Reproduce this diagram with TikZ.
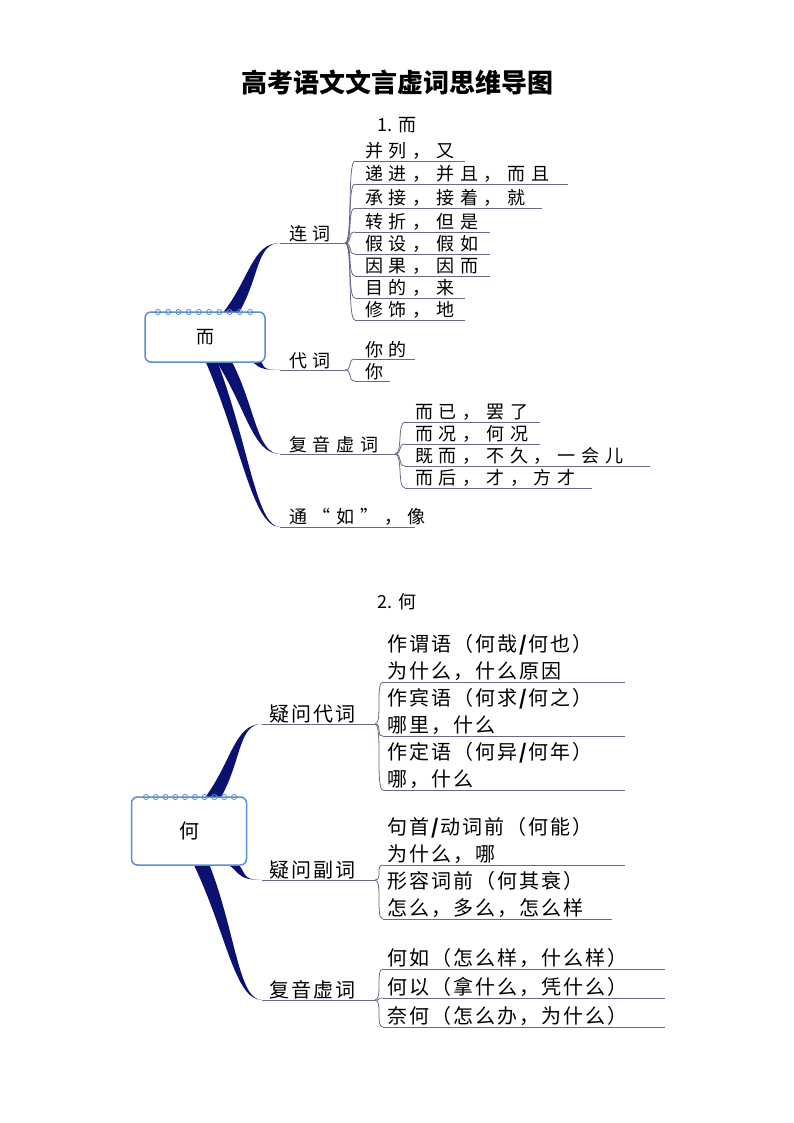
\documentclass[tikz,border=0pt]{standalone}
\usepackage{fontspec}
\setmainfont{Noto Sans CJK SC}
\usetikzlibrary{calc}
\definecolor{navy}{HTML}{0A1170}
\definecolor{twig}{HTML}{6A6A88}
\definecolor{boxb}{HTML}{5B8FD0}
\tikzset{
 lbl/.style={anchor=south west,inner sep=1pt,font=\fontsize{18}{22}\selectfont\addfontfeature{LetterSpace=32}},
 lbltwo/.style={anchor=south west,inner sep=1pt,align=left,font=\fontsize{20}{27}\selectfont\addfontfeature{LetterSpace=10}},
 rule/.style={draw=twig,line width=0.9pt},
 twigline/.style={draw=twig,line width=0.8pt},
 centerbox/.style={draw=boxb,line width=1.5pt,rounded corners=6pt,fill=white},
}
\newcommand\taper[3]{% from #1 (start) to #2 (end), half width #3
 \fill[navy] ($(#1)+(-#3,0)$) .. controls ($(#1)!0.5!(#2)+(-0.6*#3,0)$) and ($(#2)+(-28,0)$) .. (#2)
   .. controls ($(#2)+(-24,0)$) and ($(#1)!0.5!(#2)+(0.6*#3,0)$) .. ($(#1)+(#3,0)$) -- cycle;}
\newcommand\twig[2]{\draw[twigline] (#1) .. controls ($(#1)+(8,0)$) and ($(#2)+(-8,0)$) .. (#2);}
\newcommand\spiral[4]{% x1 x2 y n
 \foreach \i in {0,...,#4}{\draw[boxb,line width=0.8pt] ({#1+(#2-#1)*\i/#4},#3) circle (2.6pt);}}
\begin{document}
\begin{tikzpicture}[x=1pt,y=-1pt]
\useasboundingbox (0,0) rectangle (794,1123);
\node[font=\fontsize{26}{30}\selectfont\bfseries] (title) at (397,82) {高考语文文言虚词思维导图};
\node[font=\fontsize{18}{22}\selectfont] (h1) at (397,125) {1. 而};
\node[font=\fontsize{18}{22}\selectfont] (h2) at (397,602) {2. 何};
% ---------- diagram 1 ----------
\coordinate (a1s) at (230,314); \coordinate (a1e) at (280,243);
\coordinate (a2s) at (250,358); \coordinate (a2e) at (280,370);
\coordinate (a3s) at (222,358); \coordinate (a3e) at (280,454);
\coordinate (a4s) at (210,358); \coordinate (a4e) at (280,527);
\taper{a1s}{a1e}{8}\taper{a2s}{a2e}{6}\taper{a3s}{a3e}{8}\taper{a4s}{a4e}{6}
\node[centerbox,minimum width=120pt,minimum height=50pt] (er) at (205,337) {\fontsize{18}{20}\selectfont 而};
\spiral{158}{250}{312}{9}
\coordinate (b1) at (345,243); \coordinate (b2) at (345,370); \coordinate (b3) at (395,454); \coordinate (b4) at (415,527);
\draw[rule] (a1e)--(b1); \draw[rule] (a2e)--(b2); \draw[rule] (a3e)--(b3); \draw[rule] (a4e)--(b4);
\node[lbl] (lianci) at (288,243) {连词};
\node[lbl] (daici) at (288,370) {代词};
\node[lbl] (fuyin1) at (288,454) {复音虚词};
\node[lbl] (tongru) at (288,527) {通“如”，像};
\foreach \n/\y/\xe/\t in {1/161/465/{并列，又},2/184/568/{递进，并且，而且},3/208/542/{承接，接着，就},4/232/490/{转折，但是},5/254/490/{假设，假如},6/276/490/{因果，因而},7/298/465/{目的，来},8/320/465/{修饰，地}}{
  \coordinate (l\n) at (355,\y); \draw[rule] (l\n) -- (\xe,\y); \twig{b1}{l\n}
  \node[lbl] (t\n) at (364,\y) {\t};}
\foreach \n/\y/\xe/\t in {1/359/415/{你的},2/381/390/{你}}{
  \coordinate (m\n) at (355,\y); \draw[rule] (m\n) -- (\xe,\y); \twig{b2}{m\n}
  \node[lbl] (u\n) at (364,\y) {\t};}
\foreach \n/\y/\xe/\t in {1/422/540/{而已，罢了},2/444/540/{而况，何况},3/466/650/{既而，不久，一会儿},4/488/592/{而后，才，方才}}{
  \coordinate (f\n) at (405,\y); \draw[rule] (f\n) -- (\xe,\y); \twig{b3}{f\n}
  \node[lbl] (v\n) at (414,\y) {\t};}
% ---------- diagram 2 ----------
\coordinate (c1s) at (212,799); \coordinate (c1e) at (262,724);
\coordinate (c2s) at (228,861); \coordinate (c2e) at (262,880);
\coordinate (c3s) at (200,861); \coordinate (c3e) at (262,1000);
\taper{c1s}{c1e}{8}\taper{c2s}{c2e}{6}\taper{c3s}{c3e}{8}
\node[centerbox,minimum width=115pt,minimum height=68pt] (he) at (189,831) {\fontsize{20}{22}\selectfont 何};
\spiral{146}{234}{797}{9}
\coordinate (d1) at (375,724); \coordinate (d2) at (375,880); \coordinate (d3) at (375,1000);
\draw[rule] (c1e)--(d1); \draw[rule] (c2e)--(d2); \draw[rule] (c3e)--(d3);
\node[lbltwo] (yiwendai) at (268,724) {疑问代词};
\node[lbltwo] (yiwenfu) at (268,880) {疑问副词};
\node[lbltwo] (fuyin2) at (268,1000) {复音虚词};
\foreach \n/\y/\xe/\t in {1/682/625/{作谓语（何哉\textbf{/}何也）\\为什么，什么原因},2/736/625/{作宾语（何求\textbf{/}何之）\\哪里，什么},3/790/625/{作定语（何异\textbf{/}何年）\\哪，什么}}{
  \coordinate (p\n) at (383,\y); \draw[rule] (p\n) -- (\xe,\y); \twig{d1}{p\n}
  \node[lbltwo] (q\n) at (386,\y) {\t};}
\foreach \n/\y/\xe/\t in {1/865/625/{句首\textbf{/}动词前（何能）\\为什么，哪},2/919/612/{形容词前（何其衰）\\怎么，多么，怎么样}}{
  \coordinate (r\n) at (383,\y); \draw[rule] (r\n) -- (\xe,\y); \twig{d2}{r\n}
  \node[lbltwo] (s\n) at (386,\y) {\t};}
\foreach \n/\y/\xe/\t in {1/969/665/{何如（怎么样，什么样）},2/998/665/{何以（拿什么，凭什么）},3/1027/665/{奈何（怎么办，为什么）}}{
  \coordinate (w\n) at (383,\y); \draw[rule] (w\n) -- (\xe,\y); \twig{d3}{w\n}
  \node[lbltwo] (z\n) at (386,\y) {\t};}
\end{tikzpicture}
\end{document}
